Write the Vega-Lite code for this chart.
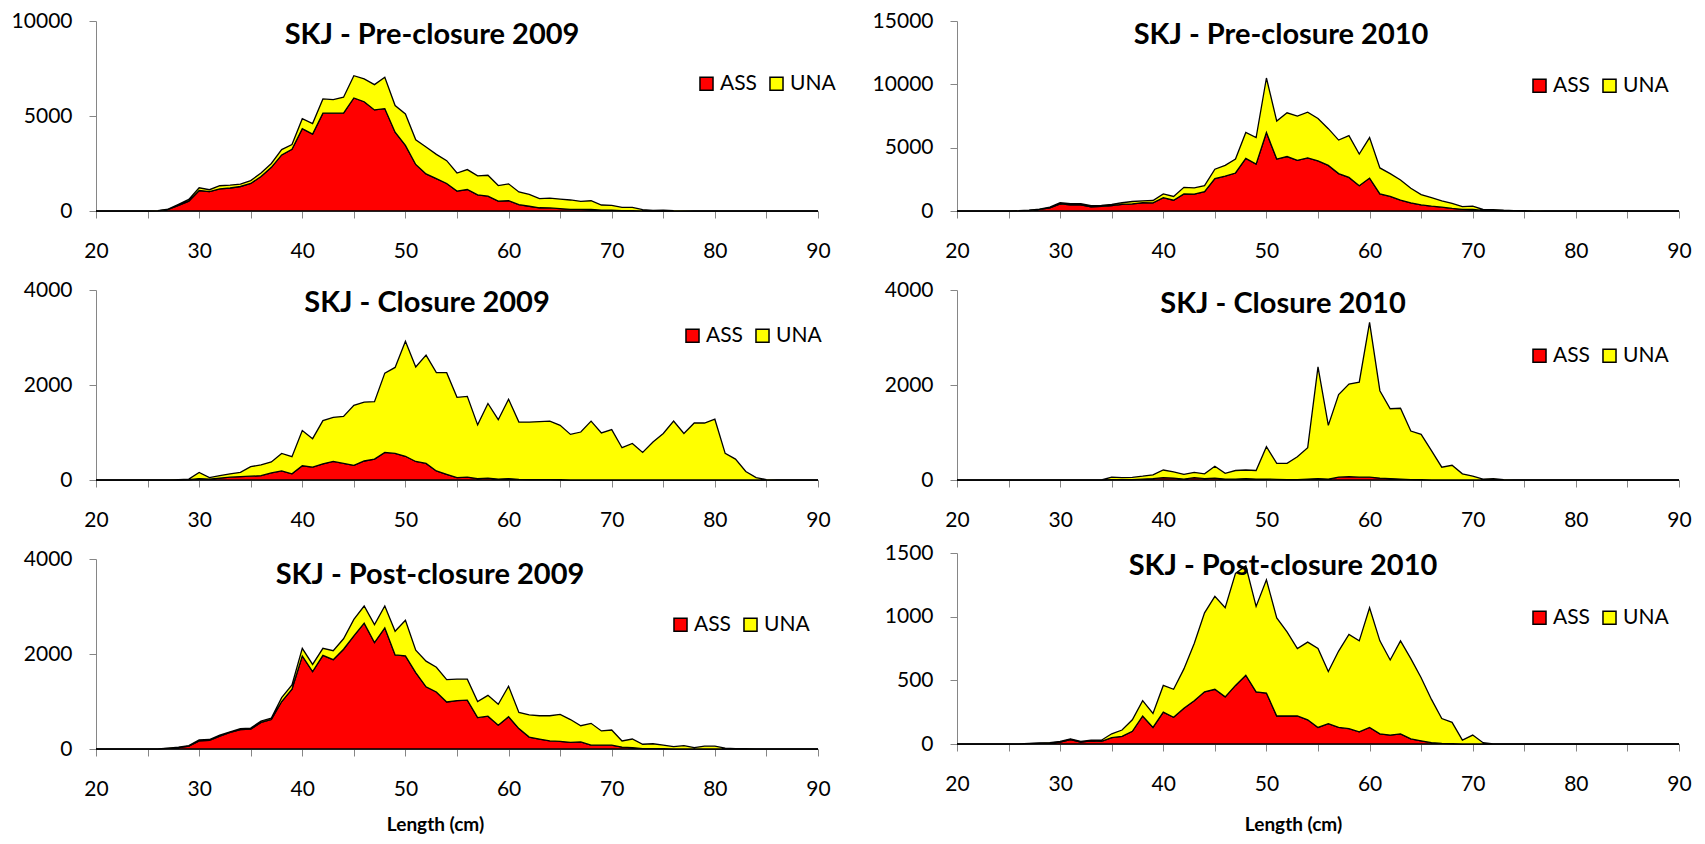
{
"$schema": "https://vega.github.io/schema/vega-lite/v6.json",
"padding": {"left": 11, "top": 10, "right": 5, "bottom": 5},
"config": {
  "font": "Lato",
  "view": {"stroke": null},
  "axis": {"grid": false, "domainColor": "#868686", "tickColor": "#868686", "labelFont": "Lato", "labelFontSize": 21, "labelColor": "#000000", "tickSize": 7, "domainWidth": 1, "tickWidth": 1},
  "axisX": {"labelPadding": 22, "labelFlush": false, "titleFont": "Lato", "titleFontSize": 19, "titleFontWeight": "bold", "titleColor": "#000000"},
  "axisY": {"labelPadding": 17},
  "legend": {"orient": "none", "direction": "horizontal", "title": null, "symbolType": "square", "symbolSize": 170, "symbolStrokeColor": "#000000", "symbolStrokeWidth": 1.5, "labelFont": "Lato", "labelFontSize": 21, "labelColor": "#000000", "labelOffset": 3, "columnPadding": 8, "padding": 0},
  "title": {"font": "Lato", "fontSize": 29, "fontWeight": "bold", "color": "#000000", "frame": "group", "anchor": "middle", "baseline": "middle"}
},
"datasets": {
"pre09": [
{"L":20,"ASS":0,"UNA":0},{"L":21,"ASS":0,"UNA":0},{"L":22,"ASS":0,"UNA":0},{"L":23,"ASS":0,"UNA":0},{"L":24,"ASS":0,"UNA":0},{"L":25,"ASS":0,"UNA":0},
{"L":26,"ASS":10,"UNA":10},{"L":27,"ASS":80,"UNA":20},{"L":28,"ASS":300,"UNA":50},{"L":29,"ASS":520,"UNA":90},{"L":30,"ASS":1080,"UNA":140},
{"L":31,"ASS":1020,"UNA":100},{"L":32,"ASS":1160,"UNA":170},{"L":33,"ASS":1210,"UNA":150},{"L":34,"ASS":1290,"UNA":120},{"L":35,"ASS":1450,"UNA":150},
{"L":36,"ASS":1820,"UNA":180},{"L":37,"ASS":2300,"UNA":200},{"L":38,"ASS":2950,"UNA":280},{"L":39,"ASS":3250,"UNA":250},{"L":40,"ASS":4330,"UNA":530},
{"L":41,"ASS":4050,"UNA":550},{"L":42,"ASS":5150,"UNA":750},{"L":43,"ASS":5150,"UNA":710},{"L":44,"ASS":5150,"UNA":840},{"L":45,"ASS":5950,"UNA":1170},
{"L":46,"ASS":5750,"UNA":1200},{"L":47,"ASS":5320,"UNA":1330},{"L":48,"ASS":5390,"UNA":1650},{"L":49,"ASS":4150,"UNA":1400},{"L":50,"ASS":3450,"UNA":1660},
{"L":51,"ASS":2450,"UNA":1300},{"L":52,"ASS":1950,"UNA":1420},{"L":53,"ASS":1700,"UNA":1280},{"L":54,"ASS":1450,"UNA":1200},{"L":55,"ASS":1050,"UNA":950},
{"L":56,"ASS":1130,"UNA":1050},{"L":57,"ASS":850,"UNA":1000},{"L":58,"ASS":780,"UNA":1100},{"L":59,"ASS":520,"UNA":820},{"L":60,"ASS":540,"UNA":890},
{"L":61,"ASS":330,"UNA":670},{"L":62,"ASS":250,"UNA":620},{"L":63,"ASS":170,"UNA":480},{"L":64,"ASS":160,"UNA":520},{"L":65,"ASS":120,"UNA":510},
{"L":66,"ASS":90,"UNA":490},{"L":67,"ASS":90,"UNA":420},{"L":68,"ASS":80,"UNA":460},{"L":69,"ASS":50,"UNA":265},{"L":70,"ASS":40,"UNA":260},
{"L":71,"ASS":20,"UNA":170},{"L":72,"ASS":15,"UNA":175},{"L":73,"ASS":5,"UNA":65},{"L":74,"ASS":0,"UNA":35},{"L":75,"ASS":0,"UNA":50},
{"L":76,"ASS":0,"UNA":20},{"L":77,"ASS":0,"UNA":10},{"L":78,"ASS":0,"UNA":5},{"L":79,"ASS":0,"UNA":5},{"L":80,"ASS":0,"UNA":5},
{"L":81,"ASS":0,"UNA":0},{"L":82,"ASS":0,"UNA":0},{"L":83,"ASS":0,"UNA":0},{"L":84,"ASS":0,"UNA":0},{"L":85,"ASS":0,"UNA":0},
{"L":86,"ASS":0,"UNA":0},{"L":87,"ASS":0,"UNA":0},{"L":88,"ASS":0,"UNA":0},{"L":89,"ASS":0,"UNA":0},{"L":90,"ASS":0,"UNA":0}
],
"pre10": [
{"L":20,"ASS":0,"UNA":0},{"L":21,"ASS":0,"UNA":0},{"L":22,"ASS":0,"UNA":0},{"L":23,"ASS":0,"UNA":0},{"L":24,"ASS":0,"UNA":0},{"L":25,"ASS":0,"UNA":0},
{"L":26,"ASS":10,"UNA":10},{"L":27,"ASS":40,"UNA":20},{"L":28,"ASS":120,"UNA":30},{"L":29,"ASS":250,"UNA":50},{"L":30,"ASS":560,"UNA":90},
{"L":31,"ASS":480,"UNA":100},{"L":32,"ASS":490,"UNA":90},{"L":33,"ASS":330,"UNA":100},{"L":34,"ASS":360,"UNA":90},{"L":35,"ASS":420,"UNA":110},
{"L":36,"ASS":520,"UNA":130},{"L":37,"ASS":570,"UNA":180},{"L":38,"ASS":650,"UNA":150},{"L":39,"ASS":640,"UNA":190},{"L":40,"ASS":1050,"UNA":300},
{"L":41,"ASS":850,"UNA":300},{"L":42,"ASS":1350,"UNA":520},{"L":43,"ASS":1340,"UNA":480},{"L":44,"ASS":1520,"UNA":480},{"L":45,"ASS":2550,"UNA":750},
{"L":46,"ASS":2750,"UNA":850},{"L":47,"ASS":3000,"UNA":1100},{"L":48,"ASS":4150,"UNA":2050},{"L":49,"ASS":3700,"UNA":2100},{"L":50,"ASS":6200,"UNA":4300},
{"L":51,"ASS":4100,"UNA":3000},{"L":52,"ASS":4300,"UNA":3450},{"L":53,"ASS":4000,"UNA":3500},{"L":54,"ASS":4200,"UNA":3600},{"L":55,"ASS":3950,"UNA":3350},
{"L":56,"ASS":3600,"UNA":2900},{"L":57,"ASS":2950,"UNA":2650},{"L":58,"ASS":2650,"UNA":3300},{"L":59,"ASS":2000,"UNA":2500},{"L":60,"ASS":2600,"UNA":3200},
{"L":61,"ASS":1350,"UNA":2050},{"L":62,"ASS":1150,"UNA":1800},{"L":63,"ASS":850,"UNA":1600},{"L":64,"ASS":650,"UNA":1150},{"L":65,"ASS":480,"UNA":820},
{"L":66,"ASS":380,"UNA":670},{"L":67,"ASS":300,"UNA":500},{"L":68,"ASS":200,"UNA":400},{"L":69,"ASS":130,"UNA":220},{"L":70,"ASS":120,"UNA":260},
{"L":71,"ASS":40,"UNA":80},{"L":72,"ASS":30,"UNA":80},{"L":73,"ASS":15,"UNA":45},{"L":74,"ASS":10,"UNA":20},{"L":75,"ASS":0,"UNA":20},
{"L":76,"ASS":0,"UNA":10},{"L":77,"ASS":0,"UNA":5},{"L":78,"ASS":0,"UNA":0},{"L":79,"ASS":0,"UNA":0},{"L":80,"ASS":0,"UNA":0},
{"L":81,"ASS":0,"UNA":0},{"L":82,"ASS":0,"UNA":0},{"L":83,"ASS":0,"UNA":0},{"L":84,"ASS":0,"UNA":0},{"L":85,"ASS":0,"UNA":0},
{"L":86,"ASS":0,"UNA":0},{"L":87,"ASS":0,"UNA":0},{"L":88,"ASS":0,"UNA":0},{"L":89,"ASS":0,"UNA":0},{"L":90,"ASS":0,"UNA":0}
],
"clo09": [
{"L":20,"ASS":0,"UNA":0},{"L":21,"ASS":0,"UNA":0},{"L":22,"ASS":0,"UNA":0},{"L":23,"ASS":0,"UNA":0},{"L":24,"ASS":0,"UNA":0},{"L":25,"ASS":0,"UNA":0},
{"L":26,"ASS":0,"UNA":0},{"L":27,"ASS":0,"UNA":0},{"L":28,"ASS":0,"UNA":10},{"L":29,"ASS":5,"UNA":15},{"L":30,"ASS":30,"UNA":130},
{"L":31,"ASS":20,"UNA":30},{"L":32,"ASS":40,"UNA":50},{"L":33,"ASS":60,"UNA":70},{"L":34,"ASS":70,"UNA":90},{"L":35,"ASS":80,"UNA":200},
{"L":36,"ASS":90,"UNA":230},{"L":37,"ASS":150,"UNA":230},{"L":38,"ASS":190,"UNA":370},{"L":39,"ASS":130,"UNA":360},{"L":40,"ASS":300,"UNA":740},
{"L":41,"ASS":270,"UNA":600},{"L":42,"ASS":340,"UNA":910},{"L":43,"ASS":390,"UNA":930},{"L":44,"ASS":350,"UNA":990},{"L":45,"ASS":310,"UNA":1260},
{"L":46,"ASS":400,"UNA":1240},{"L":47,"ASS":440,"UNA":1210},{"L":48,"ASS":580,"UNA":1670},{"L":49,"ASS":560,"UNA":1810},{"L":50,"ASS":500,"UNA":2420},
{"L":51,"ASS":390,"UNA":1990},{"L":52,"ASS":350,"UNA":2280},{"L":53,"ASS":190,"UNA":2070},{"L":54,"ASS":120,"UNA":2140},{"L":55,"ASS":50,"UNA":1690},
{"L":56,"ASS":60,"UNA":1700},{"L":57,"ASS":30,"UNA":1130},{"L":58,"ASS":40,"UNA":1570},{"L":59,"ASS":20,"UNA":1250},{"L":60,"ASS":30,"UNA":1670},
{"L":61,"ASS":15,"UNA":1205},{"L":62,"ASS":10,"UNA":1210},{"L":63,"ASS":10,"UNA":1220},{"L":64,"ASS":10,"UNA":1230},{"L":65,"ASS":5,"UNA":1145},
{"L":66,"ASS":0,"UNA":960},{"L":67,"ASS":0,"UNA":1010},{"L":68,"ASS":0,"UNA":1240},{"L":69,"ASS":0,"UNA":990},{"L":70,"ASS":0,"UNA":1060},
{"L":71,"ASS":0,"UNA":680},{"L":72,"ASS":0,"UNA":770},{"L":73,"ASS":0,"UNA":580},{"L":74,"ASS":0,"UNA":800},{"L":75,"ASS":0,"UNA":980},
{"L":76,"ASS":0,"UNA":1240},{"L":77,"ASS":0,"UNA":980},{"L":78,"ASS":0,"UNA":1200},{"L":79,"ASS":0,"UNA":1200},{"L":80,"ASS":0,"UNA":1280},
{"L":81,"ASS":0,"UNA":560},{"L":82,"ASS":0,"UNA":440},{"L":83,"ASS":0,"UNA":180},{"L":84,"ASS":0,"UNA":50},{"L":85,"ASS":0,"UNA":10},
{"L":86,"ASS":0,"UNA":0},{"L":87,"ASS":0,"UNA":0},{"L":88,"ASS":0,"UNA":0},{"L":89,"ASS":0,"UNA":0},{"L":90,"ASS":0,"UNA":0}
],
"clo10": [
{"L":20,"ASS":0,"UNA":0},{"L":21,"ASS":0,"UNA":0},{"L":22,"ASS":0,"UNA":0},{"L":23,"ASS":0,"UNA":0},{"L":24,"ASS":0,"UNA":0},{"L":25,"ASS":0,"UNA":0},
{"L":26,"ASS":0,"UNA":0},{"L":27,"ASS":0,"UNA":0},{"L":28,"ASS":0,"UNA":0},{"L":29,"ASS":0,"UNA":0},{"L":30,"ASS":0,"UNA":0},
{"L":31,"ASS":0,"UNA":0},{"L":32,"ASS":0,"UNA":0},{"L":33,"ASS":0,"UNA":0},{"L":34,"ASS":0,"UNA":0},{"L":35,"ASS":10,"UNA":50},
{"L":36,"ASS":10,"UNA":40},{"L":37,"ASS":10,"UNA":45},{"L":38,"ASS":20,"UNA":60},{"L":39,"ASS":30,"UNA":80},{"L":40,"ASS":50,"UNA":160},
{"L":41,"ASS":40,"UNA":130},{"L":42,"ASS":20,"UNA":100},{"L":43,"ASS":50,"UNA":110},{"L":44,"ASS":30,"UNA":100},{"L":45,"ASS":40,"UNA":250},
{"L":46,"ASS":20,"UNA":120},{"L":47,"ASS":20,"UNA":180},{"L":48,"ASS":30,"UNA":180},{"L":49,"ASS":20,"UNA":180},{"L":50,"ASS":20,"UNA":680},
{"L":51,"ASS":15,"UNA":335},{"L":52,"ASS":10,"UNA":340},{"L":53,"ASS":10,"UNA":480},{"L":54,"ASS":20,"UNA":660},{"L":55,"ASS":30,"UNA":2350},
{"L":56,"ASS":20,"UNA":1130},{"L":57,"ASS":60,"UNA":1740},{"L":58,"ASS":70,"UNA":1950},{"L":59,"ASS":60,"UNA":2000},{"L":60,"ASS":60,"UNA":3260},
{"L":61,"ASS":40,"UNA":1840},{"L":62,"ASS":30,"UNA":1470},{"L":63,"ASS":20,"UNA":1490},{"L":64,"ASS":10,"UNA":1020},{"L":65,"ASS":5,"UNA":955},
{"L":66,"ASS":0,"UNA":620},{"L":67,"ASS":0,"UNA":270},{"L":68,"ASS":0,"UNA":310},{"L":69,"ASS":0,"UNA":130},{"L":70,"ASS":0,"UNA":80},
{"L":71,"ASS":0,"UNA":20},{"L":72,"ASS":0,"UNA":30},{"L":73,"ASS":0,"UNA":5},{"L":74,"ASS":0,"UNA":0},{"L":75,"ASS":0,"UNA":0},
{"L":76,"ASS":0,"UNA":0},{"L":77,"ASS":0,"UNA":0},{"L":78,"ASS":0,"UNA":0},{"L":79,"ASS":0,"UNA":0},{"L":80,"ASS":0,"UNA":0},
{"L":81,"ASS":0,"UNA":0},{"L":82,"ASS":0,"UNA":0},{"L":83,"ASS":0,"UNA":0},{"L":84,"ASS":0,"UNA":0},{"L":85,"ASS":0,"UNA":0},
{"L":86,"ASS":0,"UNA":0},{"L":87,"ASS":0,"UNA":0},{"L":88,"ASS":0,"UNA":0},{"L":89,"ASS":0,"UNA":0},{"L":90,"ASS":0,"UNA":0}
],
"post09": [
{"L":20,"ASS":0,"UNA":0},{"L":21,"ASS":0,"UNA":0},{"L":22,"ASS":0,"UNA":0},{"L":23,"ASS":0,"UNA":0},{"L":24,"ASS":0,"UNA":0},{"L":25,"ASS":0,"UNA":0},
{"L":26,"ASS":0,"UNA":0},{"L":27,"ASS":15,"UNA":5},{"L":28,"ASS":30,"UNA":10},{"L":29,"ASS":60,"UNA":10},{"L":30,"ASS":170,"UNA":20},
{"L":31,"ASS":180,"UNA":20},{"L":32,"ASS":270,"UNA":20},{"L":33,"ASS":350,"UNA":10},{"L":34,"ASS":410,"UNA":20},{"L":35,"ASS":420,"UNA":20},
{"L":36,"ASS":560,"UNA":30},{"L":37,"ASS":620,"UNA":30},{"L":38,"ASS":1000,"UNA":80},{"L":39,"ASS":1260,"UNA":90},{"L":40,"ASS":1960,"UNA":160},
{"L":41,"ASS":1630,"UNA":150},{"L":42,"ASS":1970,"UNA":150},{"L":43,"ASS":1880,"UNA":190},{"L":44,"ASS":2100,"UNA":220},{"L":45,"ASS":2380,"UNA":350},
{"L":46,"ASS":2650,"UNA":360},{"L":47,"ASS":2240,"UNA":380},{"L":48,"ASS":2550,"UNA":460},{"L":49,"ASS":1980,"UNA":500},{"L":50,"ASS":1960,"UNA":750},
{"L":51,"ASS":1610,"UNA":470},{"L":52,"ASS":1310,"UNA":540},{"L":53,"ASS":1200,"UNA":520},{"L":54,"ASS":990,"UNA":470},{"L":55,"ASS":1020,"UNA":450},
{"L":56,"ASS":1030,"UNA":440},{"L":57,"ASS":660,"UNA":340},{"L":58,"ASS":690,"UNA":440},{"L":59,"ASS":500,"UNA":440},{"L":60,"ASS":680,"UNA":640},
{"L":61,"ASS":430,"UNA":340},{"L":62,"ASS":250,"UNA":470},{"L":63,"ASS":210,"UNA":490},{"L":64,"ASS":170,"UNA":530},{"L":65,"ASS":160,"UNA":570},
{"L":66,"ASS":140,"UNA":480},{"L":67,"ASS":150,"UNA":340},{"L":68,"ASS":80,"UNA":460},{"L":69,"ASS":80,"UNA":300},{"L":70,"ASS":80,"UNA":320},
{"L":71,"ASS":40,"UNA":130},{"L":72,"ASS":30,"UNA":180},{"L":73,"ASS":10,"UNA":90},{"L":74,"ASS":10,"UNA":100},{"L":75,"ASS":5,"UNA":75},
{"L":76,"ASS":0,"UNA":50},{"L":77,"ASS":0,"UNA":70},{"L":78,"ASS":0,"UNA":30},{"L":79,"ASS":0,"UNA":60},{"L":80,"ASS":0,"UNA":60},
{"L":81,"ASS":0,"UNA":20},{"L":82,"ASS":0,"UNA":10},{"L":83,"ASS":0,"UNA":5},{"L":84,"ASS":0,"UNA":0},{"L":85,"ASS":0,"UNA":0},
{"L":86,"ASS":0,"UNA":0},{"L":87,"ASS":0,"UNA":0},{"L":88,"ASS":0,"UNA":0},{"L":89,"ASS":0,"UNA":0},{"L":90,"ASS":0,"UNA":0}
],
"post10": [
{"L":20,"ASS":0,"UNA":0},{"L":21,"ASS":0,"UNA":0},{"L":22,"ASS":0,"UNA":0},{"L":23,"ASS":0,"UNA":0},{"L":24,"ASS":0,"UNA":0},{"L":25,"ASS":0,"UNA":0},
{"L":26,"ASS":0,"UNA":0},{"L":27,"ASS":3,"UNA":2},{"L":28,"ASS":5,"UNA":3},{"L":29,"ASS":8,"UNA":2},{"L":30,"ASS":15,"UNA":5},
{"L":31,"ASS":35,"UNA":5},{"L":32,"ASS":15,"UNA":5},{"L":33,"ASS":25,"UNA":5},{"L":34,"ASS":20,"UNA":10},{"L":35,"ASS":50,"UNA":30},
{"L":36,"ASS":60,"UNA":50},{"L":37,"ASS":100,"UNA":90},{"L":38,"ASS":220,"UNA":120},{"L":39,"ASS":130,"UNA":110},{"L":40,"ASS":250,"UNA":210},
{"L":41,"ASS":210,"UNA":220},{"L":42,"ASS":280,"UNA":310},{"L":43,"ASS":340,"UNA":450},{"L":44,"ASS":410,"UNA":620},{"L":45,"ASS":430,"UNA":730},
{"L":46,"ASS":370,"UNA":700},{"L":47,"ASS":460,"UNA":880},{"L":48,"ASS":540,"UNA":860},{"L":49,"ASS":410,"UNA":670},{"L":50,"ASS":400,"UNA":890},
{"L":51,"ASS":220,"UNA":770},{"L":52,"ASS":220,"UNA":660},{"L":53,"ASS":220,"UNA":530},{"L":54,"ASS":190,"UNA":610},{"L":55,"ASS":130,"UNA":620},
{"L":56,"ASS":160,"UNA":410},{"L":57,"ASS":130,"UNA":600},{"L":58,"ASS":120,"UNA":740},{"L":59,"ASS":95,"UNA":715},{"L":60,"ASS":130,"UNA":940},
{"L":61,"ASS":80,"UNA":730},{"L":62,"ASS":70,"UNA":590},{"L":63,"ASS":80,"UNA":730},{"L":64,"ASS":40,"UNA":630},{"L":65,"ASS":25,"UNA":495},
{"L":66,"ASS":10,"UNA":340},{"L":67,"ASS":5,"UNA":195},{"L":68,"ASS":2,"UNA":168},{"L":69,"ASS":0,"UNA":30},{"L":70,"ASS":0,"UNA":70},
{"L":71,"ASS":0,"UNA":10},{"L":72,"ASS":0,"UNA":0},{"L":73,"ASS":0,"UNA":0},{"L":74,"ASS":0,"UNA":0},{"L":75,"ASS":0,"UNA":0},
{"L":76,"ASS":0,"UNA":0},{"L":77,"ASS":0,"UNA":0},{"L":78,"ASS":0,"UNA":0},{"L":79,"ASS":0,"UNA":0},{"L":80,"ASS":0,"UNA":0},
{"L":81,"ASS":0,"UNA":0},{"L":82,"ASS":0,"UNA":0},{"L":83,"ASS":0,"UNA":0},{"L":84,"ASS":0,"UNA":0},{"L":85,"ASS":0,"UNA":0},
{"L":86,"ASS":0,"UNA":0},{"L":87,"ASS":0,"UNA":0},{"L":88,"ASS":0,"UNA":0},{"L":89,"ASS":0,"UNA":0},{"L":90,"ASS":0,"UNA":0}
]
},
"spacing": 36,
"resolve": {"scale": {"color": "independent"}, "legend": {"color": "independent"}},
"hconcat": [
 {"vconcat": [
  {"width": 722, "height": 190, "data": {"name": "pre09"},
   "transform": [{"fold": ["ASS", "UNA"], "as": ["type", "n"]}],
   "title": {"text": "SKJ - Pre-closure 2009", "dx": -25, "offset": -40},
   "mark": {"type": "area", "stroke": "#000000", "strokeWidth": 1.3, "opacity": 1},
   "encoding": {
    "x": {"field": "L", "type": "quantitative", "scale": {"domain": [20, 90], "nice": false, "zero": false}, "axis": {"values": [20,25,30,35,40,45,50,55,60,65,70,75,80,85,90], "labelExpr": "datum.value % 10 === 0 ? datum.label : ''", "title": null}},
    "y": {"field": "n", "type": "quantitative", "stack": "zero", "scale": {"domain": [0, 10000], "nice": false}, "axis": {"values": [0, 5000, 10000], "format": "d", "title": null}},
    "color": {"field": "type", "type": "nominal", "scale": {"domain": ["ASS", "UNA"], "range": ["#ff0000", "#ffff00"]}, "legend": {"legendX": 600, "legendY": 52}},
    "order": {"field": "type", "sort": "ascending"}
   }},
  {"width": 722, "height": 190, "data": {"name": "clo09"},
   "transform": [{"fold": ["ASS", "UNA"], "as": ["type", "n"]}],
   "title": {"text": "SKJ - Closure 2009", "dx": -30, "offset": -39},
   "mark": {"type": "area", "stroke": "#000000", "strokeWidth": 1.3, "opacity": 1},
   "encoding": {
    "x": {"field": "L", "type": "quantitative", "scale": {"domain": [20, 90], "nice": false, "zero": false}, "axis": {"values": [20,25,30,35,40,45,50,55,60,65,70,75,80,85,90], "labelExpr": "datum.value % 10 === 0 ? datum.label : ''", "title": null}},
    "y": {"field": "n", "type": "quantitative", "stack": "zero", "scale": {"domain": [0, 4000], "nice": false}, "axis": {"values": [0, 2000, 4000], "format": "d", "title": null}},
    "color": {"field": "type", "type": "nominal", "scale": {"domain": ["ASS", "UNA"], "range": ["#ff0000", "#ffff00"]}, "legend": {"legendX": 586, "legendY": 35}},
    "order": {"field": "type", "sort": "ascending"}
   }},
  {"width": 722, "height": 190, "data": {"name": "post09"},
   "transform": [{"fold": ["ASS", "UNA"], "as": ["type", "n"]}],
   "title": {"text": "SKJ - Post-closure 2009", "dx": -27, "offset": -42},
   "mark": {"type": "area", "stroke": "#000000", "strokeWidth": 1.3, "opacity": 1},
   "encoding": {
    "x": {"field": "L", "type": "quantitative", "scale": {"domain": [20, 90], "nice": false, "zero": false}, "axis": {"values": [20,25,30,35,40,45,50,55,60,65,70,75,80,85,90], "labelExpr": "datum.value % 10 === 0 ? datum.label : ''", "title": "Length (cm)", "titleX": 339, "titleY": 75, "titleBaseline": "middle"}},
    "y": {"field": "n", "type": "quantitative", "stack": "zero", "scale": {"domain": [0, 4000], "nice": false}, "axis": {"values": [0, 2000, 4000], "format": "d", "title": null}},
    "color": {"field": "type", "type": "nominal", "scale": {"domain": ["ASS", "UNA"], "range": ["#ff0000", "#ffff00"]}, "legend": {"legendX": 574, "legendY": 55}},
    "order": {"field": "type", "sort": "ascending"}
   }}
 ], "spacing": 79, "bounds": "flush", "resolve": {"scale": {"color": "independent"}, "legend": {"color": "independent"}}},
 {"vconcat": [
  {"vconcat": [
   {"width": 722, "height": 190, "data": {"name": "pre10"},
    "transform": [{"fold": ["ASS", "UNA"], "as": ["type", "n"]}],
    "title": {"text": "SKJ - Pre-closure 2010", "dx": -37, "offset": -40},
    "mark": {"type": "area", "stroke": "#000000", "strokeWidth": 1.3, "opacity": 1},
    "encoding": {
     "x": {"field": "L", "type": "quantitative", "scale": {"domain": [20, 90], "nice": false, "zero": false}, "axis": {"values": [20,25,30,35,40,45,50,55,60,65,70,75,80,85,90], "labelExpr": "datum.value % 10 === 0 ? datum.label : ''", "title": null}},
     "y": {"field": "n", "type": "quantitative", "stack": "zero", "scale": {"domain": [0, 15000], "nice": false}, "axis": {"values": [0, 5000, 10000, 15000], "format": "d", "title": null}},
     "color": {"field": "type", "type": "nominal", "scale": {"domain": ["ASS", "UNA"], "range": ["#ff0000", "#ffff00"]}, "legend": {"legendX": 572, "legendY": 54}},
     "order": {"field": "type", "sort": "ascending"}
    }},
   {"width": 722, "height": 190, "data": {"name": "clo10"},
    "transform": [{"fold": ["ASS", "UNA"], "as": ["type", "n"]}],
    "title": {"text": "SKJ - Closure 2010", "dx": -35, "offset": -40},
    "mark": {"type": "area", "stroke": "#000000", "strokeWidth": 1.3, "opacity": 1},
    "encoding": {
     "x": {"field": "L", "type": "quantitative", "scale": {"domain": [20, 90], "nice": false, "zero": false}, "axis": {"values": [20,25,30,35,40,45,50,55,60,65,70,75,80,85,90], "labelExpr": "datum.value % 10 === 0 ? datum.label : ''", "title": null}},
     "y": {"field": "n", "type": "quantitative", "stack": "zero", "scale": {"domain": [0, 4000], "nice": false}, "axis": {"values": [0, 2000, 4000], "format": "d", "title": null}},
     "color": {"field": "type", "type": "nominal", "scale": {"domain": ["ASS", "UNA"], "range": ["#ff0000", "#ffff00"]}, "legend": {"legendX": 572, "legendY": 55}},
     "order": {"field": "type", "sort": "ascending"}
    }}
  ], "spacing": 79, "bounds": "flush", "resolve": {"scale": {"color": "independent"}, "legend": {"color": "independent"}}},
  {"width": 722, "height": 191, "data": {"name": "post10"},
   "transform": [{"fold": ["ASS", "UNA"], "as": ["type", "n"]}],
   "title": {"text": "SKJ - Post-closure 2010", "dx": -35, "offset": -39},
   "mark": {"type": "area", "stroke": "#000000", "strokeWidth": 1.3, "opacity": 1},
   "encoding": {
    "x": {"field": "L", "type": "quantitative", "scale": {"domain": [20, 90], "nice": false, "zero": false}, "axis": {"values": [20,25,30,35,40,45,50,55,60,65,70,75,80,85,90], "labelExpr": "datum.value % 10 === 0 ? datum.label : ''", "title": "Length (cm)", "titleX": 336, "titleY": 80, "titleBaseline": "middle"}},
    "y": {"field": "n", "type": "quantitative", "stack": "zero", "scale": {"domain": [0, 1500], "nice": false}, "axis": {"values": [0, 500, 1000, 1500], "format": "d", "title": null}},
    "color": {"field": "type", "type": "nominal", "scale": {"domain": ["ASS", "UNA"], "range": ["#ff0000", "#ffff00"]}, "legend": {"legendX": 572, "legendY": 54}},
    "order": {"field": "type", "sort": "ascending"}
   }}
 ], "spacing": 12, "resolve": {"scale": {"color": "independent"}, "legend": {"color": "independent"}}}
]
}
